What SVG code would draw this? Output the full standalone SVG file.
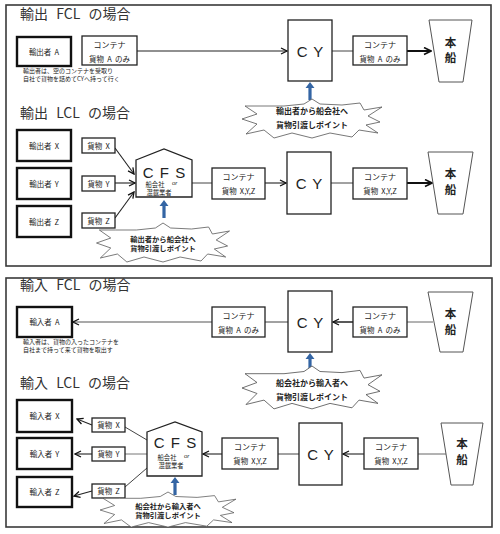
<svg xmlns="http://www.w3.org/2000/svg" xmlns:xlink="http://www.w3.org/1999/xlink" width="500" height="534" viewBox="0 0 500 534">
<style>
  .frame{fill:#fff;stroke:#3a3a3a;stroke-width:1.6}
  .bold{fill:#fff;stroke:#111;stroke-width:2.4}
  .box{fill:#fff;stroke:#222;stroke-width:1.3}
  .ship{fill:#fff;stroke:#555;stroke-width:1}
  .burst{fill:#fff;stroke:#555;stroke-width:0.8}
  .jp{font-family:"Noto Sans CJK JP","Noto Sans",sans-serif;fill:#222}
  .title{font-size:14px;fill:#333;word-spacing:5px}
  .lbl{font-size:7.5px;text-anchor:middle;word-spacing:1.5px}
  .note{font-size:6px}
  .bt{font-size:8px;font-weight:bold;text-anchor:middle}
  .bt2{font-size:7.3px;font-weight:bold;text-anchor:middle}
  .big{font-family:"Liberation Sans",Arial,sans-serif;font-size:15px;fill:#222;text-anchor:middle;word-spacing:2px}
  .sh{font-size:11.5px;font-weight:bold;text-anchor:middle}
  .sm{font-size:6.3px;text-anchor:middle}
  .or{font-family:"Liberation Sans",Arial,sans-serif;font-size:6px;font-style:italic;fill:#222}
  .ln{fill:none;stroke:#444;stroke-width:1}
  .ar{fill:none;stroke:#222;stroke-width:1.1;marker-end:url(#arr)}
  .ark{fill:none;stroke:#111;stroke-width:2;marker-end:url(#arr2)}
  .blue{fill:#3465a4}
</style>
<defs>
  <marker id="arr" viewBox="0 0 8 8" refX="7" refY="4" markerWidth="8" markerHeight="8" markerUnits="userSpaceOnUse" orient="auto">
    <path d="M1,1 L7,4 L1,7" fill="none" stroke="#111" stroke-width="1.3"/>
  </marker>
  <marker id="arr2" viewBox="0 0 9 9" refX="8" refY="4.5" markerWidth="9" markerHeight="9" markerUnits="userSpaceOnUse" orient="auto">
    <path d="M1,1 L8,4.5 L1,8" fill="none" stroke="#111" stroke-width="1.6"/>
  </marker>
  <path id="burst" d="M-50,-13 L-28,-13 L-8,-15 L0,-20 L8,-15 L30,-14 L48,-16 L52,-9 L70,-12 L56,-3 L68,3 L54,6 L66,14 L47,11 L40,18 L18,14 L0,19 L-20,14 L-38,19 L-48,11 L-66,15 L-55,5 L-70,0 L-55,-5 L-67,-13 Z"/>
  <path id="up" d="M-1.6,18 L1.6,18 L1.6,6 L4.5,6 L0,0 L-4.5,6 L-1.6,6 Z"/>
</defs>

<rect class="frame" x="6" y="5" width="485" height="261"/>
<rect class="frame" x="6" y="278" width="486" height="249"/>

<!-- titles -->
<text class="jp title" x="20" y="19">輸出 FCL の場合</text>
<text class="jp title" x="20" y="118">輸出 LCL の場合</text>
<text class="jp title" x="20" y="290">輸入 FCL の場合</text>
<text class="jp title" x="20" y="388">輸入 LCL の場合</text>

<!-- connectors -->
<g id="connectors">
  <!-- export FCL -->
  <line class="ar" x1="137" y1="51" x2="287" y2="51"/>
  <line class="ln" x1="332" y1="51" x2="353" y2="51"/>
  <line class="ark" x1="407" y1="51" x2="431" y2="51"/>
  <use href="#up" class="blue" x="310" y="82"/>
  <!-- export LCL -->
  <line class="ar" x1="115" y1="148" x2="134" y2="174"/>
  <line class="ar" x1="115" y1="183" x2="135" y2="183"/>
  <line class="ar" x1="115" y1="218" x2="134" y2="192"/>
  <line class="ln" x1="192" y1="183" x2="212" y2="183"/>
  <line class="ar" x1="265" y1="183" x2="286" y2="183"/>
  <line class="ln" x1="331" y1="183" x2="353" y2="183"/>
  <line class="ark" x1="407" y1="183" x2="432" y2="183"/>
  <use href="#up" class="blue" x="164" y="200"/>
  <!-- import FCL -->
  <line class="ar" x1="212" y1="322" x2="73" y2="322" style="stroke:#555"/>
  <line class="ln" x1="265" y1="322" x2="288" y2="322"/>
  <line class="ar" x1="353" y1="322" x2="333" y2="322" style="stroke-width:1.5"/>
  <line class="ln" x1="407" y1="322" x2="433" y2="322" style="stroke:#666"/>
  <use href="#up" class="blue" x="310" y="353"/>
  <!-- import LCL -->
  <line class="ln" x1="147" y1="440" x2="125" y2="427"/>
  <line class="ln" x1="147" y1="454" x2="125" y2="454" style="stroke:#777"/>
  <line class="ln" x1="147" y1="468" x2="125" y2="487"/>
  <line class="ar" x1="92" y1="425" x2="77" y2="419"/>
  <line class="ar" x1="92" y1="454" x2="75" y2="454"/>
  <line class="ar" x1="92" y1="491" x2="74" y2="496"/>
  <line class="ar" x1="222" y1="454" x2="203" y2="454"/>
  <line class="ln" x1="278" y1="454" x2="299" y2="454"/>
  <line class="ar" x1="364" y1="454" x2="343" y2="454"/>
  <line class="ln" x1="418" y1="454" x2="446" y2="454" style="stroke:#666"/>
  <use href="#up" class="blue" x="175" y="477"/>
</g>

<!-- ===== Export FCL ===== -->
<g id="expA">
  <rect class="bold" x="17" y="37" width="54" height="29"/>
  <text class="jp lbl" x="44" y="55">輸出者 A</text>
</g>
<g id="noteExp">
  <text class="jp note" x="23" y="73">輸出者は、空のコンテナを受取り</text>
  <text class="jp note" x="23" y="81">自社で貨物を詰めてCYへ持って行く</text>
</g>
<g id="contE1">
  <rect class="box" x="82" y="36" width="55" height="29"/>
  <text class="jp lbl" x="109.5" y="48" style="font-size:8px">コンテナ</text>
  <text class="jp lbl" x="109.5" y="62">貨物 A のみ</text>
</g>
<g id="cyE1">
  <rect class="box" x="288" y="20" width="44" height="61"/>
  <text class="big" x="310" y="57">C Y</text>
</g>
<g id="contE2">
  <rect class="box" x="353" y="36" width="54" height="29"/>
  <text class="jp lbl" x="380" y="48" style="font-size:8px">コンテナ</text>
  <text class="jp lbl" x="380" y="62">貨物 A のみ</text>
</g>
<g id="shipE1">
  <polygon class="ship" points="429,20 472,20 463,82 439,82"/>
  <text class="jp sh" x="450.5" y="47">本</text>
  <text class="jp sh" x="450.5" y="62">船</text>
</g>
<g id="burstE1">
  <use href="#burst" class="burst" transform="translate(312,119)"/>
  <text class="jp bt" x="312" y="114">輸出者から船会社へ</text>
  <text class="jp bt" x="312" y="128">貨物引渡しポイント</text>
</g>

<!-- ===== Export LCL ===== -->
<g id="expX">
  <rect class="bold" x="17" y="130" width="54" height="31"/>
  <text class="jp lbl" x="44" y="149">輸出者 X</text>
</g>
<g id="expY">
  <rect class="bold" x="17" y="168" width="54" height="31"/>
  <text class="jp lbl" x="44" y="187">輸出者 Y</text>
</g>
<g id="expZ">
  <rect class="bold" x="17" y="206" width="54" height="31"/>
  <text class="jp lbl" x="44" y="225">輸出者 Z</text>
</g>
<g id="goodsEX">
  <rect class="box" x="82" y="138" width="33" height="15"/>
  <text class="jp lbl" x="98.5" y="148.5">貨物 X</text>
</g>
<g id="goodsEY">
  <rect class="box" x="82" y="176" width="33" height="15"/>
  <text class="jp lbl" x="98.5" y="186.5">貨物 Y</text>
</g>
<g id="goodsEZ">
  <rect class="box" x="82" y="213" width="33" height="15"/>
  <text class="jp lbl" x="98.5" y="223.5">貨物 Z</text>
</g>
<g id="cfsE">
  <polygon class="box" points="136,160 164,149 192,160 192,197 136,197"/>
  <text class="big" x="164" y="178">C F S</text>
  <text class="jp sm" x="155" y="187">船会社</text>
  <text class="or" x="172" y="184.5">or</text>
  <text class="jp sm" x="159" y="195">混載業者</text>
</g>
<g id="contLE1">
  <rect class="box" x="212" y="168" width="53" height="31"/>
  <text class="jp lbl" x="238.5" y="180" style="font-size:8px">コンテナ</text>
  <text class="jp lbl" x="238.5" y="194">貨物 X,Y,Z</text>
</g>
<g id="cyE2">
  <rect class="box" x="287" y="152" width="44" height="62"/>
  <text class="big" x="309" y="189">C Y</text>
</g>
<g id="contLE2">
  <rect class="box" x="353" y="168" width="54" height="31"/>
  <text class="jp lbl" x="380" y="180" style="font-size:8px">コンテナ</text>
  <text class="jp lbl" x="380" y="194">貨物 X,Y,Z</text>
</g>
<g id="shipE2">
  <polygon class="ship" points="428,152 473,152 463,214 438,214"/>
  <text class="jp sh" x="450.5" y="178">本</text>
  <text class="jp sh" x="450.5" y="194">船</text>
</g>
<g id="burstE2">
  <use href="#burst" class="burst" transform="translate(163,243) scale(0.95,1)"/>
  <text class="jp bt2" x="163" y="241.5">輸出者から船会社へ</text>
  <text class="jp bt2" x="163" y="250.5">貨物引渡しポイント</text>
</g>

<!-- ===== Import FCL ===== -->
<g id="impA">
  <rect class="bold" x="17" y="307" width="55" height="30"/>
  <text class="jp lbl" x="44.5" y="325">輸入者 A</text>
</g>
<g id="noteImp">
  <text class="jp note" x="23" y="344">輸入者は、貨物の入ったコンテナを</text>
  <text class="jp note" x="23" y="352">自社まで持って来て貨物を取出す</text>
</g>
<g id="contI1">
  <rect class="box" x="212" y="307" width="53" height="30"/>
  <text class="jp lbl" x="238.5" y="319" style="font-size:8px">コンテナ</text>
  <text class="jp lbl" x="238.5" y="333">貨物 A のみ</text>
</g>
<g id="cyI1">
  <rect class="box" x="288" y="291" width="44" height="61"/>
  <text class="big" x="310" y="328">C Y</text>
</g>
<g id="contI2">
  <rect class="box" x="353" y="307" width="54" height="30"/>
  <text class="jp lbl" x="380" y="319" style="font-size:8px">コンテナ</text>
  <text class="jp lbl" x="380" y="333">貨物 A のみ</text>
</g>
<g id="shipI1">
  <polygon class="ship" points="428,292 473,292 463,352 440,352"/>
  <text class="jp sh" x="450.5" y="318">本</text>
  <text class="jp sh" x="450.5" y="334">船</text>
</g>
<g id="burstI1">
  <use href="#burst" class="burst" transform="translate(312,388) scale(1,1.1)"/>
  <text class="jp bt" x="312" y="386">船会社から輸入者へ</text>
  <text class="jp bt" x="312" y="400">貨物引渡しポイント</text>
</g>

<!-- ===== Import LCL ===== -->
<g id="impX">
  <rect class="bold" x="17" y="400" width="55" height="32"/>
  <text class="jp lbl" x="44.5" y="419">輸入者 X</text>
</g>
<g id="impY">
  <rect class="bold" x="17" y="438" width="55" height="31"/>
  <text class="jp lbl" x="44.5" y="457">輸入者 Y</text>
</g>
<g id="impZ">
  <rect class="bold" x="17" y="477" width="55" height="30"/>
  <text class="jp lbl" x="44.5" y="495">輸入者 Z</text>
</g>
<g id="goodsIX">
  <rect class="box" x="92" y="418" width="33" height="14"/>
  <text class="jp lbl" x="108.5" y="428">貨物 X</text>
</g>
<g id="goodsIY">
  <rect class="box" x="92" y="447" width="33" height="14"/>
  <text class="jp lbl" x="108.5" y="457">貨物 Y</text>
</g>
<g id="goodsIZ">
  <rect class="box" x="92" y="484" width="33" height="14"/>
  <text class="jp lbl" x="108.5" y="494">貨物 Z</text>
</g>
<g id="cfsI">
  <polygon class="box" points="147,432 175,422 202,432 202,476 147,476"/>
  <text class="big" x="175" y="448">C F S</text>
  <text class="jp sm" x="167" y="460">船会社</text>
  <text class="or" x="184" y="457.5">or</text>
  <text class="jp sm" x="171" y="468">混載業者</text>
</g>
<g id="contLI1">
  <rect class="box" x="222" y="438" width="56" height="31"/>
  <text class="jp lbl" x="250" y="450" style="font-size:8px">コンテナ</text>
  <text class="jp lbl" x="250" y="464">貨物 X,Y,Z</text>
</g>
<g id="cyI2">
  <rect class="box" x="299" y="423" width="43" height="62"/>
  <text class="big" x="320.5" y="460">C Y</text>
</g>
<g id="contLI2">
  <rect class="box" x="364" y="438" width="54" height="31"/>
  <text class="jp lbl" x="391" y="450" style="font-size:8px">コンテナ</text>
  <text class="jp lbl" x="391" y="464">貨物 X,Y,Z</text>
</g>
<g id="shipI2">
  <polygon class="ship" points="441,423 483,423 473,485 451,485"/>
  <text class="jp sh" x="462" y="448">本</text>
  <text class="jp sh" x="462" y="464">船</text>
</g>
<g id="burstI2">
  <use href="#burst" class="burst" transform="translate(168,510) scale(0.97,0.9)"/>
  <text class="jp bt2" x="168" y="509">船会社から輸入者へ</text>
  <text class="jp bt2" x="168" y="518">貨物引渡しポイント</text>
</g>
</svg>
